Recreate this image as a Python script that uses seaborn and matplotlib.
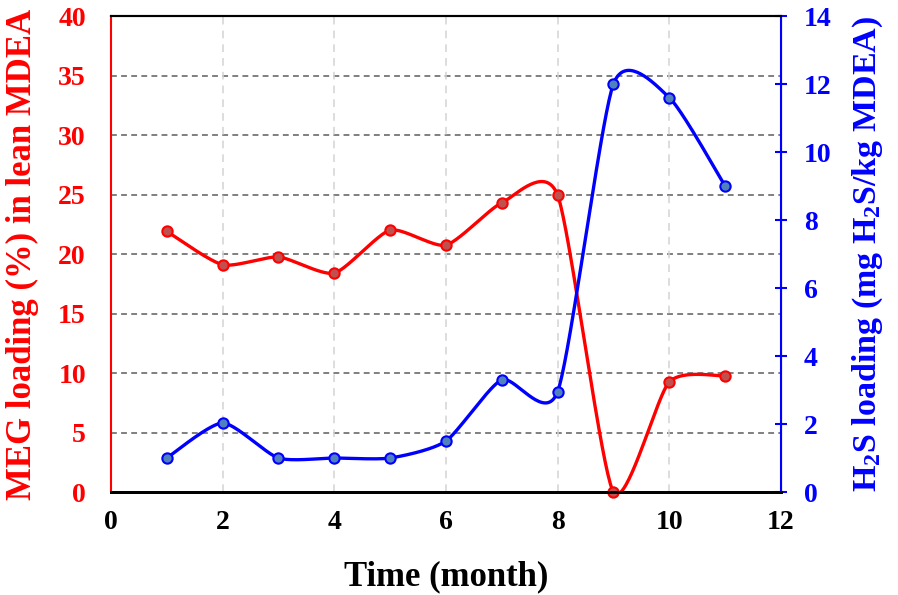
import numpy as np
import pandas as pd
import seaborn as sns
import matplotlib.pyplot as plt

# == data == #
months = [1, 2, 3, 4, 5, 6, 7, 8, 9, 10, 11]
meg = [21.9, 19.1, 19.75, 18.4, 22.0, 20.75, 24.3, 24.95, 0.0, 9.25, 9.75]
h2s = [1.0, 2.03, 1.0, 1.0, 1.0, 1.5, 3.3, 2.95, 12.0, 11.6, 9.0]


def smooth(x, y, n=40, k=9.0):
    # smoothed line like the office charts: cubic bezier through every point
    x = np.asarray(x, float); y = np.asarray(y, float)
    px = np.r_[x[0], x, x[-1]]; py = np.r_[y[0], y, y[-1]]
    xs, ys = [], []
    t = np.linspace(0, 1, n)
    for i in range(1, len(px) - 2):
        p0 = np.array([px[i], py[i]]); p3 = np.array([px[i + 1], py[i + 1]])
        c1 = p0 + (np.array([px[i + 1], py[i + 1]]) - np.array([px[i - 1], py[i - 1]])) / k
        c2 = p3 - (np.array([px[i + 2], py[i + 2]]) - np.array([px[i], py[i]])) / k
        b = ((1 - t) ** 3)[:, None] * p0 + (3 * (1 - t) ** 2 * t)[:, None] * c1 \
            + (3 * (1 - t) * t ** 2)[:, None] * c2 + (t ** 3)[:, None] * p3
        xs.extend(b[:, 0]); ys.extend(b[:, 1])
    return pd.DataFrame({'x': xs, 'y': ys})


sns.set_style('white')
plt.rcParams['font.family'] = ['Liberation Serif', 'DejaVu Serif']
plt.rcParams['font.weight'] = 'bold'
plt.rcParams['text.color'] = 'black'
plt.rcParams['axes.labelcolor'] = 'black'
plt.rcParams['mathtext.fontset'] = 'custom'
plt.rcParams['mathtext.rm'] = 'Liberation Serif:bold'
plt.rcParams['mathtext.default'] = 'rm'

fig = plt.figure(figsize=(8.98, 5.95), dpi=100)
ax = fig.add_axes([0.1236, 0.1731, 0.746, 0.8])
ax2 = ax.twinx()

red, blue = '#ff0000', '#0000ff'

# red series on the left axis
sm = smooth(months, meg)
sns.lineplot(data=sm, x='x', y='y', ax=ax, color=red, lw=2.4, sort=False, zorder=3)
sns.scatterplot(x=months, y=meg, ax=ax, color='#c0504d', edgecolor=red, s=55,
                linewidth=1.5, zorder=4, clip_on=False)

# blue series on the right axis
sm2 = smooth(months, h2s)
sns.lineplot(data=sm2, x='x', y='y', ax=ax2, color=blue, lw=2.4, sort=False, zorder=3)
sns.scatterplot(x=months, y=h2s, ax=ax2, color='#4f81bd', edgecolor=blue, s=55,
                linewidth=1.5, zorder=4, clip_on=False)

ax.set_xlim(0, 12)
ax.set_ylim(0, 40)
ax2.set_ylim(0, 14)
ax.set_xticks(range(0, 13, 2))
ax.set_yticks(range(0, 41, 5))
ax2.set_yticks(range(0, 15, 2))

# grid
for yv in range(5, 40, 5):
    ax.axhline(yv, color='#7f7f7f', ls=(0, (3, 2.2)), lw=1.4, zorder=1)
for xv in range(2, 12, 2):
    ax.axvline(xv, color='#d3d3d3', ls=(0, (5, 4)), lw=1.1, zorder=1)

# spines
for a in (ax, ax2):
    a.spines['top'].set_color('black'); a.spines['top'].set_linewidth(1.5)
    a.spines['bottom'].set_color('black'); a.spines['bottom'].set_linewidth(2)
ax.spines['left'].set_color(red); ax.spines['left'].set_linewidth(1.5)
ax2.spines['right'].set_color(blue); ax2.spines['right'].set_linewidth(1.5)
ax2.spines['left'].set_visible(False)

ax.tick_params(axis='x', length=0, pad=13, labelsize=20, labelcolor='black')
ax.tick_params(axis='y', length=0, pad=18, labelsize=20, labelcolor=red)
ax2.tick_params(axis='y', direction='inout', length=9, width=1.5, color=blue,
                pad=12, labelsize=20, labelcolor=blue)
for lab in ax.get_xticklabels() + ax.get_yticklabels() + ax2.get_yticklabels():
    lab.set_fontweight('bold')

ax.set_xlabel('Time (month)', fontsize=25, fontweight='bold', labelpad=18, color='black')
ax.set_ylabel('MEG loading (%) in lean MDEA', fontsize=25, fontweight='bold',
              color=red, labelpad=14)
ax2.set_ylabel('H$_2$S loading (mg H$_2$S/kg MDEA)', fontsize=24.5, fontweight='bold',
               color=blue, labelpad=14)

fig.savefig('out.png', dpi=100)
